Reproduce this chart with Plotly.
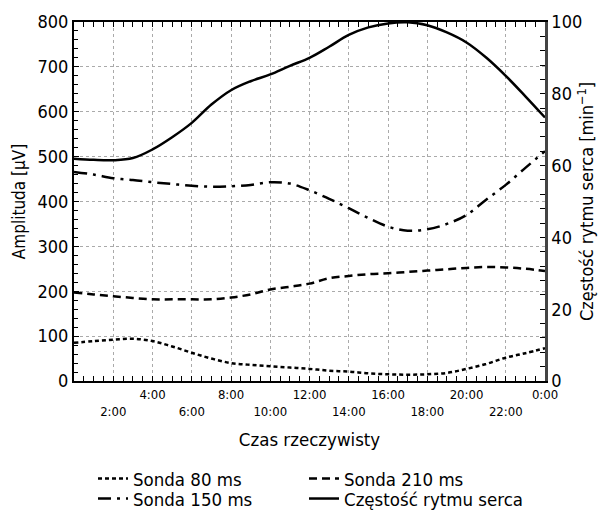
import plotly.graph_objects as go

# Godziny doby (0-24)
hours = list(range(0, 25))

# Amplitudy [uV]
sonda_80 = [85, 89, 92, 94, 89, 77, 63, 50, 40, 36, 33, 30, 27, 23, 21, 17, 15, 14, 15, 18, 27, 38, 52, 62, 73]
sonda_150 = [466, 460, 452, 448, 443, 439, 435, 433, 434, 437, 443, 440, 425, 406, 385, 363, 344, 335, 338, 350, 370, 404, 437, 475, 512]
sonda_210 = [197, 193, 189, 185, 182, 182, 182, 182, 186, 193, 204, 210, 217, 229, 234, 238, 240, 243, 246, 249, 252, 254, 253, 250, 245]

# Czestosc rytmu serca [1/min]
hr = [61.9, 61.6, 61.5, 62.1, 64.5, 67.9, 71.9, 77.0, 81.0, 83.5, 85.4, 87.8, 90.0,
      93.1, 96.4, 98.5, 99.6, 99.9, 99.1, 97.1, 94.3, 90.1, 85.0, 79.3, 73.4]

tick_vals = list(range(2, 25, 2))
tick_text = []
for h in tick_vals:
    lab = "%d:00" % (h % 24)
    if (h // 2) % 2 == 1:
        lab = "<br>" + lab
    tick_text.append(lab)

FONT = "Liberation Sans Narrow, DejaVu Sans Condensed, Arial Narrow, sans-serif"
NO_GRID = "rgba(0,0,0,0)"

fig = go.Figure()

# wiersz 1 legendy
fig.add_trace(go.Scatter(x=hours, y=sonda_80, mode="lines", name="Sonda 80 ms",
                         legend="legend", legendwidth=166,
                         line=dict(color="black", width=2.5, dash="4px,3px", shape="spline")))
fig.add_trace(go.Scatter(x=hours, y=sonda_210, mode="lines", name="Sonda 210 ms",
                         legend="legend", legendwidth=190,
                         line=dict(color="black", width=2.5, dash="8px,5px", shape="spline")))
# wiersz 2 legendy
fig.add_trace(go.Scatter(x=hours, y=sonda_150, mode="lines", name="Sonda 150 ms",
                         legend="legend2", legendwidth=166,
                         line=dict(color="black", width=2.5, dash="13px,6px,3px,6px", shape="spline")))
fig.add_trace(go.Scatter(x=hours, y=hr, mode="lines", name="Częstość rytmu serca", yaxis="y2",
                         legend="legend2", legendwidth=190,
                         line=dict(color="black", width=2.5, shape="spline")))

leg_common = dict(orientation="h", xref="container", yref="container",
                  xanchor="left", yanchor="middle", x=93 / 603,
                  font=dict(size=18.5), bgcolor="rgba(0,0,0,0)", borderwidth=0)

fig.update_layout(
    width=603, height=512,
    margin=dict(l=74, r=58, t=22, b=131, autoexpand=False),
    paper_bgcolor="white", plot_bgcolor="white",
    font=dict(family=FONT, size=18, color="black"),
    xaxis=dict(
        range=[0, 24], tickvals=tick_vals, ticktext=tick_text,
        ticks="inside", ticklen=5, tickcolor="black",
        minor=dict(dtick=0.5, ticks="inside", ticklen=5, tickcolor="black",
                   showgrid=False, gridcolor=NO_GRID),
        showline=True, linecolor="black", linewidth=2, mirror="allticks",
        showgrid=True, gridcolor="#aaaaaa", griddash="dot", gridwidth=1,
        tickfont=dict(size=13), zeroline=False,
        title=dict(text="Czas rzeczywisty", font=dict(size=18.5), standoff=16),
    ),
    yaxis=dict(
        range=[0, 800], dtick=100,
        ticks="inside", ticklen=5, tickcolor="black",
        minor=dict(dtick=20, ticks="inside", ticklen=4, tickcolor="black",
                   showgrid=False, gridcolor=NO_GRID),
        showline=True, linecolor="black", linewidth=2,
        showgrid=True, gridcolor="#aaaaaa", griddash="dot", gridwidth=1,
        zeroline=False, tickfont=dict(size=18),
        title=dict(text="Amplituda [µV]", font=dict(size=17), standoff=8),
    ),
    yaxis2=dict(
        range=[0, 100], dtick=20, overlaying="y", side="right",
        ticks="inside", ticklen=5, tickcolor="black",
        minor=dict(dtick=4, ticks="inside", ticklen=5, tickcolor="black",
                   showgrid=False, gridcolor=NO_GRID),
        showline=True, linecolor="#444444", linewidth=2.5,
        showgrid=False, zeroline=False, tickfont=dict(size=18),
        title=dict(text="Częstość rytmu serca [min<sup>−1</sup>]", font=dict(size=18), standoff=0),
    ),
    legend=dict(leg_common, y=1 - 479 / 512),
    legend2=dict(leg_common, y=1 - 499 / 512),
    showlegend=True,
)

# bez marginesu strony, zeby wykres zaczynal sie w rogu okna
fig.write_html("out.html", config={"displayModeBar": False},
               post_script="document.body.style.margin='0px';")
